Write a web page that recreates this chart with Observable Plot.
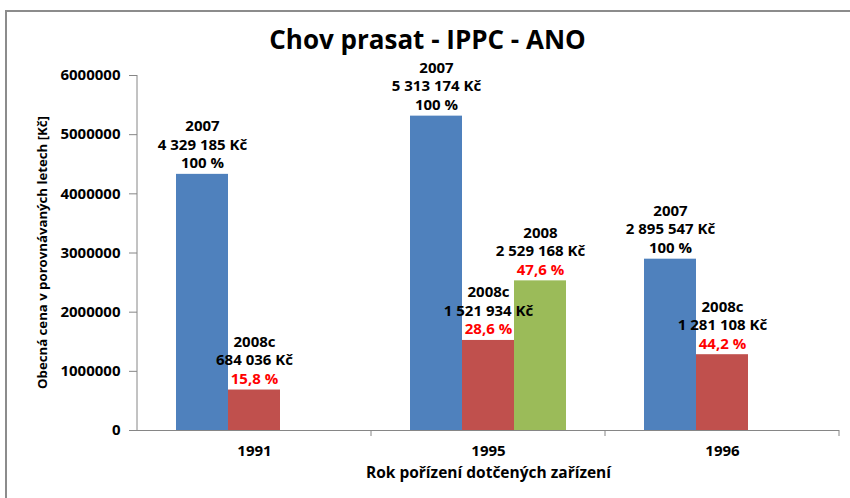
<!DOCTYPE html>
<html><head><meta charset="utf-8">
<script src="https://cdn.jsdelivr.net/npm/d3@7"></script>
<script src="https://cdn.jsdelivr.net/npm/@observablehq/plot@0.6"></script>
<style>
body{margin:0;background:#fff;}
#wrap{position:relative;width:850px;height:498px;overflow:hidden;font-family:"Open Sans",sans-serif;}
#chart{position:absolute;left:0;top:0;}
#border{position:absolute;left:5px;top:10px;width:900px;height:600px;border-top:2px solid #8c8c8c;border-left:2px solid #8c8c8c;}
#title{position:absolute;left:0;width:855px;top:25.5px;text-align:center;font-size:26px;font-weight:700;line-height:26px;color:#000;}
</style></head><body>
<div id="wrap"><div id="chart"></div><div id="title">Chov prasat - IPPC - ANO</div><div id="border"></div></div>
<script>
const years = ["1991", "1995", "1996"];
const series = ["2007", "2008c", "2008"];
const colors = ["#4F81BD", "#C0504D", "#9BBB59"];
const values2007 = [4329185, 5313174, 2895547];
const values2008c = [684036, 1521934, 1281108];
const values2008 = [null, 2529168, null];
const pct2007 = ["100 %", "100 %", "100 %"];
const pct2008c = ["15,8 %", "28,6 %", "44,2 %"];
const pct2008 = [null, "47,6 %", null];
const yTicks = [0, 1000000, 2000000, 3000000, 4000000, 5000000, 6000000];
const yLabel = "Obecná cena v porovnávaných letech [Kč]";
const xLabel = "Rok pořízení dotčených zařízení";

const rows = [];
years.forEach((yr, i) => {
  [[values2007, pct2007], [values2008c, pct2008c], [values2008, pct2008]].forEach(([v, p], j) => {
    if (v[i] != null) rows.push({year: yr, series: series[j], value: v[i], pct: p[i]});
  });
});
const fmt = d3.formatLocale({decimal: ",", thousands: " ", grouping: [3], currency: ["", ""]}).format(",d");
const base = {fx: "year", x: "series", y: "value", fontSize: 15, fontWeight: 700};

const chart = Plot.plot({
  width: 850, height: 498,
  marginLeft: 137, marginRight: 11, marginTop: 75, marginBottom: 68,
  style: {fontFamily: "'Open Sans', sans-serif", fontWeight: 700, fontSize: "15px", color: "black", background: "none"},
  fx: {domain: years, paddingInner: 0, paddingOuter: 0, axis: "bottom", tickSize: 0, tickPadding: 15,
       label: xLabel, labelAnchor: "center", labelOffset: 47},
  x: {domain: series, paddingInner: 0, paddingOuter: 0.75, axis: null},
  y: {domain: [0, 6000000], ticks: yTicks, tickFormat: d3.format("d"), tickSize: 8, tickPadding: 9, label: null},
  color: {domain: series, range: colors},
  marks: [
    Plot.barY(rows, {fx: "year", x: "series", y: "value", fill: "series"}),
    Plot.ruleY([0], {stroke: "#868686"}),
    Plot.text(rows, {...base, text: "series", dy: -48}),
    Plot.text(rows, {...base, text: d => fmt(d.value) + " Kč", dy: -29.5}),
    Plot.text(rows.filter(d => d.series === "2007"), {...base, text: "pct", dy: -11, fill: "black"}),
    Plot.text(rows.filter(d => d.series !== "2007"), {...base, text: "pct", dy: -11, fill: "#FF0000"})
  ]
});
document.getElementById("chart").appendChild(chart);

const svg = d3.select(chart);
svg.selectAll("g[aria-label^='y-axis'] line, g[aria-label^='y-axis'] path").attr("stroke", "#868686");
svg.selectAll("text").each(function() {
  const t = this.textContent;
  if (t.startsWith(xLabel)) d3.select(this).text(xLabel).attr("font-size", "15.5px");
});
const fxs = chart.scale("fx"), ys = chart.scale("y");
const y0 = ys.apply(0), yTop = ys.apply(6000000);
svg.append("text")
  .attr("transform", `translate(42,${(y0 + yTop) / 2}) rotate(-90)`)
  .attr("text-anchor", "middle").attr("dy", "0.35em")
  .attr("font-size", "13.2px").attr("font-weight", 700).attr("fill", "black")
  .text(yLabel);
const g = svg.append("g").attr("stroke", "#868686").attr("stroke-width", 1);
const left = fxs.apply(years[0]);
g.append("line").attr("x1", left).attr("x2", left).attr("y1", yTop).attr("y2", y0);
years.forEach(yr => {
  const xr = fxs.apply(yr) + fxs.bandwidth;
  g.append("line").attr("x1", xr).attr("x2", xr).attr("y1", y0).attr("y2", y0 + 6);
});
</script>
</body></html>
